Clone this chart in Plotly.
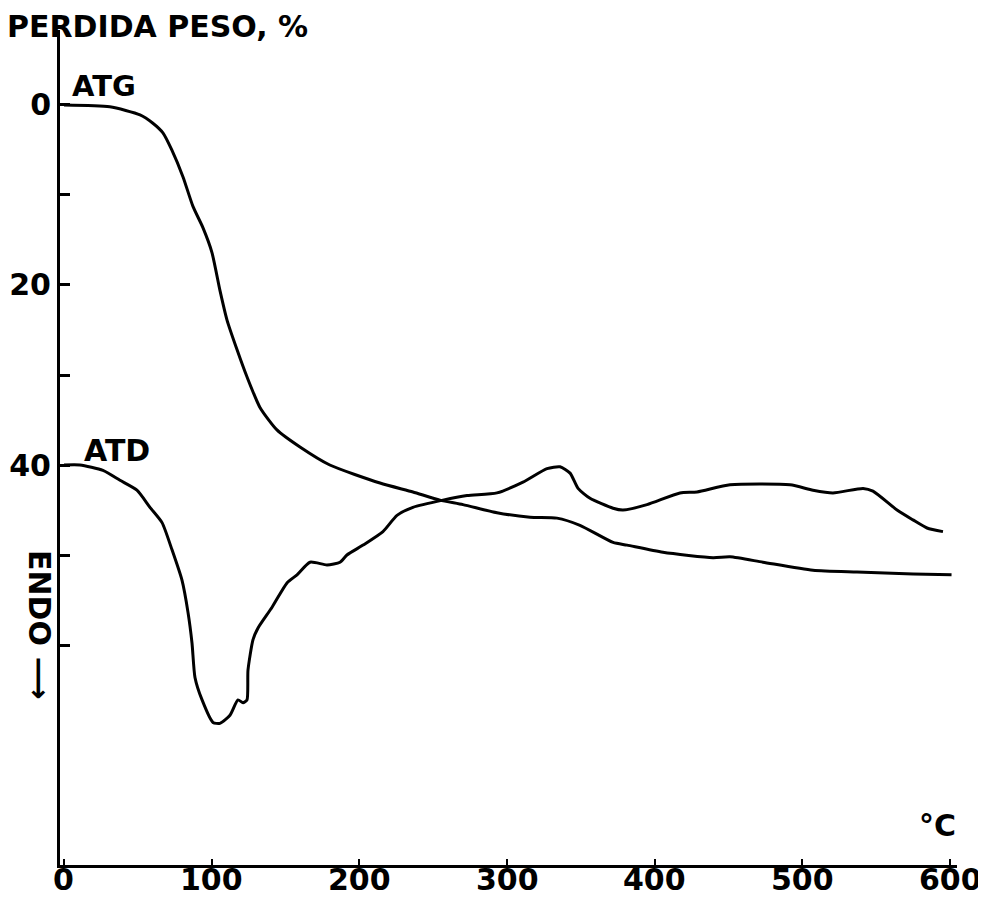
import plotly.graph_objects as go

# ATG curve: temperature (°C) vs weight loss (%)
atg_t = [0, 31, 51.5, 60, 67, 73, 80.6, 87.4, 94, 100.2, 105.6, 110.4, 117.2, 123.9,
         132.7, 144.2, 159.8, 180, 214, 236.3, 254.6, 270.2, 293.2, 315.6, 333.8,
         349.4, 371.8, 381.3, 405.6, 439.5, 451, 473.3, 507.2, 537, 575, 601]
atg_loss = [0, 0.2, 1.1, 2.0, 3.1, 5.0, 8.0, 11.3, 13.6, 16.4, 20.6, 23.9, 27.2, 30.2,
            33.6, 36.1, 38.0, 40.0, 42.0, 43.0, 43.9, 44.4, 45.3, 45.8, 45.9,
            46.7, 48.6, 48.9, 49.7, 50.3, 50.2, 50.8, 51.7, 51.9, 52.1, 52.2]

# ATD curve: temperature (°C) vs signal (plotted on same axis units)
atd_t = [0, 10.8, 26.4, 37.9, 49.4, 58.2, 66.4, 73.1, 79.9, 84, 86.7, 88.7, 93.5,
         100.9, 105.6, 112.4, 117.8, 121.2, 123.9, 124.6, 128, 131.4, 140.9, 151,
         157.8, 166.6, 178.1, 186.9, 191.6, 202.5, 216, 225.5, 236.3, 256.6, 272.9,
         293.2, 310.8, 327.1, 335.9, 342.7, 348.1, 356.2, 371.8, 378.5, 394.8, 417.1,
         428.7, 451, 491.6, 507.2, 520.7, 541.1, 547.8, 564.1, 574.9, 584.4, 595.2]
atd_val = [40.0, 40.0, 40.6, 41.7, 42.8, 44.7, 46.4, 49.4, 52.8, 56.4, 59.8, 63.6, 66.1,
           68.6, 68.7, 67.8, 66.1, 66.4, 66.1, 62.8, 59.4, 58.1, 55.8, 53.1,
           52.2, 50.8, 51.1, 50.8, 50.0, 48.9, 47.4, 45.6, 44.7, 43.9, 43.4,
           43.1, 41.9, 40.4, 40.2, 40.9, 42.6, 43.7, 44.8, 45.0, 44.4, 43.1,
           43.0, 42.2, 42.2, 42.8, 43.1, 42.6, 42.9, 45.0, 46.1, 47.0, 47.4]

x_tickvals = [0, 100, 200, 300, 400, 500, 600]
x_ticktext = ["0", "100", "200", "300", "400", "500", "600"]
y_tickvals = [0, 10, 20, 30, 40, 50, 60]
y_ticktext = ["0", "", "20", "", "40", "", ""]

FONT = "DejaVu Sans"

fig = go.Figure()
fig.add_trace(go.Scatter(x=atg_t, y=atg_loss, mode="lines",
                         line=dict(color="black", width=3, shape="spline", smoothing=0.6),
                         showlegend=False, hoverinfo="skip"))
fig.add_trace(go.Scatter(x=atd_t, y=atd_val, mode="lines",
                         line=dict(color="black", width=3, shape="spline", smoothing=0.6),
                         showlegend=False, hoverinfo="skip"))

fig.update_layout(
    width=978, height=890,
    margin=dict(l=52, r=29, t=22, b=33, autoexpand=False),
    paper_bgcolor="white", plot_bgcolor="white",
    font=dict(family=FONT, color="black", size=30, weight="bold"),
    xaxis=dict(range=[-2.7, 604.7], showgrid=False, zeroline=False, automargin=False,
               showline=True, linecolor="black", linewidth=3,
               tickmode="array", tickvals=x_tickvals, showticklabels=False,
               ticks="inside", ticklen=6, tickwidth=2, tickcolor="black"),
    yaxis=dict(range=[84.44, -8.33], showgrid=False, zeroline=False, automargin=False,
               showline=True, linecolor="black", linewidth=3,
               tickmode="array", tickvals=y_tickvals, ticktext=y_ticktext,
               ticks="inside", ticklen=10, tickwidth=3, tickcolor="black",
               tickfont=dict(family=FONT, size=30, weight="bold", color="black")),
)

ann_font = lambda s: dict(family=FONT, size=s, color="black", weight="bold")

# x tick labels placed just under the axis line
for v, t in zip(x_tickvals, x_ticktext):
    fig.add_annotation(text=t, xref="x", yref="paper", x=v, y=0, yshift=5,
                       xanchor="center", yanchor="top", showarrow=False, font=ann_font(30))

fig.add_annotation(text="PERDIDA PESO, %", xref="paper", yref="paper", x=-0.0613, y=1.026,
                   xanchor="left", yanchor="top", height=32, valign="middle",
                   showarrow=False, font=ann_font(30))
fig.add_annotation(text="ATG", xref="x", yref="y", x=4.1, y=-2.1,
                   xanchor="left", yanchor="middle", showarrow=False, font=ann_font(29))
fig.add_annotation(text="ATD", xref="x", yref="y", x=12.2, y=38.4,
                   xanchor="left", yanchor="middle", showarrow=False, font=ann_font(30))
fig.add_annotation(text="°C", xref="x", yref="y", x=577.6, y=80.1,
                   xanchor="left", yanchor="middle", showarrow=False, font=ann_font(30))
fig.add_annotation(text="ENDO ⟶", xref="paper", yref="paper", x=-0.0223, y=0.2874,
                   xanchor="center", yanchor="middle", showarrow=False, textangle=90,
                   font=ann_font(30))

fig.write_html("out.html")
